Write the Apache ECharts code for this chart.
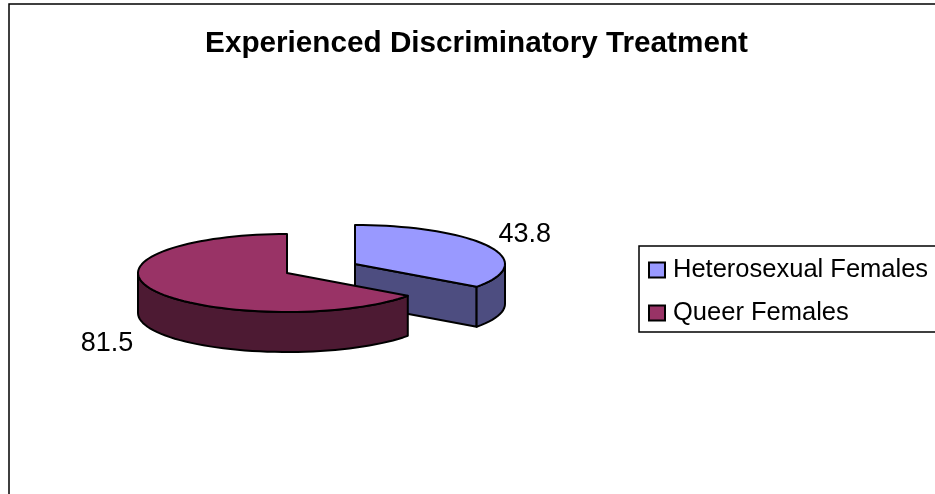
<!DOCTYPE html>
<html>
<head>
<meta charset="utf-8">
<style>
  html, body { margin: 0; padding: 0; background: #fff; overflow: hidden; }
  #chart { width: 935px; height: 494px; }
</style>
<script src="https://cdn.jsdelivr.net/npm/echarts@6/dist/echarts.min.js"></script>
</head>
<body>
<div id="chart"></div>
<script>
const FONT = '"Liberation Sans", Arial, sans-serif'

const categories = ['Heterosexual Females', 'Queer Females']
const values = [43.8, 81.5]
const topColors = ['#9999ff', '#993366']
const sideColors = ['#4d4d80', '#4d1a33']

// where each exploded slice sits, and where its label goes relative to the rim
const sliceCenters = [[355, 264], [287, 273]]
const sliceRadii = [[150, 39], [149, 39]]
const labelOffsets = [[10, -12], [-21, 53]]
const depth = 40

const total = values.reduce((a, b) => a + b, 0)

// angles run clockwise from 12 o'clock
function rim(i, deg, drop) {
  const rad = deg * Math.PI / 180
  return [
    sliceCenters[i][0] + sliceRadii[i][0] * Math.sin(rad),
    sliceCenters[i][1] - sliceRadii[i][1] * Math.cos(rad) + (drop || 0)
  ]
}

function arc(i, from, to, drop) {
  const pts = []
  const steps = Math.max(2, Math.ceil((to - from) / 3))
  for (let k = 0; k <= steps; k++) {
    pts.push(rim(i, from + (to - from) * k / steps, drop))
  }
  return pts
}

function poly(points, fill) {
  return {
    type: 'polygon',
    shape: { points },
    style: { fill, stroke: '#000', lineWidth: 2, lineJoin: 'round' }
  }
}

function renderSlice(i) {
  return function (params, api) {
    const before = values.slice(0, i).reduce((a, b) => a + b, 0)
    const start = before / total * 360
    const end = start + api.value(0) / total * 360
    const c = sliceCenters[i]
    const bottom = [c[0], c[1] + depth]
    const side = sideColors[i]
    const children = []

    // cut faces, only the ones turned towards the viewer
    if (Math.sin(end * Math.PI / 180) > 0.001) {
      children.push(poly([c, rim(i, end), rim(i, end, depth), bottom], side))
    }
    if (Math.sin(start * Math.PI / 180) < -0.001) {
      children.push(poly([c, rim(i, start), rim(i, start, depth), bottom], side))
    }

    // outer wall is visible on the lower half of the ellipse
    const wallFrom = Math.max(start, 90)
    const wallTo = Math.min(end, 270)
    if (wallTo > wallFrom) {
      children.push(poly(
        arc(i, wallFrom, wallTo).concat(arc(i, wallFrom, wallTo, depth).reverse()),
        side
      ))
    }

    children.push(poly([c].concat(arc(i, start, end)), topColors[i]))

    const anchor = rim(i, (start + end) / 2)
    children.push({
      type: 'text',
      style: {
        x: anchor[0] + labelOffsets[i][0],
        y: anchor[1] + labelOffsets[i][1],
        text: String(api.value(0)),
        fill: '#000',
        font: '27px ' + FONT,
        align: i === 0 ? 'left' : 'right',
        verticalAlign: 'middle'
      }
    })
    return { type: 'group', children }
  }
}

const chart = echarts.init(document.getElementById('chart'), null, { renderer: 'canvas' })
chart.setOption({
  animation: false,
  backgroundColor: '#fff',
  title: {
    text: 'Experienced Discriminatory Treatment',
    left: 471.5,
    top: 24,
    textAlign: 'center',
    textStyle: { color: '#000', fontFamily: FONT, fontSize: 29.7, fontWeight: 'bold' }
  },
  legend: {
    orient: 'vertical',
    left: 639,
    top: 246,
    padding: [11, 24, 6, 9],
    itemGap: 17,
    itemWidth: 16,
    itemHeight: 15,
    icon: 'rect',
    selectedMode: false,
    backgroundColor: '#fff',
    borderColor: '#000',
    borderWidth: 1.5,
    textStyle: {
      color: '#000',
      fontFamily: FONT,
      fontSize: 25.5,
      padding: [0, 0, 0, 3]
    },
    data: categories.map((name, i) => ({
      name,
      itemStyle: { color: topColors[i], borderColor: '#000', borderWidth: 2 }
    }))
  },
  graphic: [{
    type: 'rect',
    silent: true,
    z: -10,
    shape: { x: 9, y: 4, width: 1000, height: 600 },
    style: { fill: 'none', stroke: '#000', lineWidth: 1.5 }
  }],
  series: categories.map((name, i) => ({
    name,
    type: 'custom',
    coordinateSystem: 'none',
    silent: true,
    itemStyle: { color: topColors[i] },
    renderItem: renderSlice(i),
    data: [[values[i]]]
  }))
})
</script>
</body>
</html>
